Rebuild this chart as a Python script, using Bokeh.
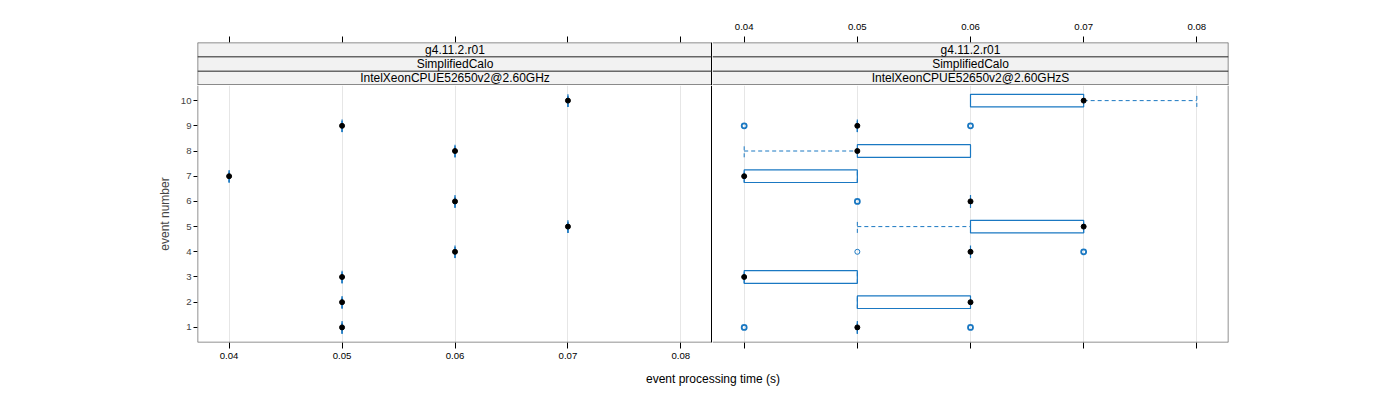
from bokeh.plotting import figure
from bokeh.models import Range1d, FixedTicker, ColumnDataSource, Span
from bokeh.layouts import column, row
from bokeh.embed import file_html
from bokeh.resources import INLINE
from bokeh.core.properties import value

# ---------------- data ----------------
events = [1, 2, 3, 4, 5, 6, 7, 8, 9, 10]

# left panel: IntelXeonCPUE52650v2@2.60GHz (one measurement per event)
left_times = [0.05, 0.05, 0.05, 0.06, 0.07, 0.06, 0.04, 0.06, 0.05, 0.07]

# right panel: IntelXeonCPUE52650v2@2.60GHzS (box statistics per event)
right_lower = [0.05, 0.05, 0.04, 0.06, 0.05, 0.06, 0.04, 0.04, 0.05, 0.06]
right_q1 = [0.05, 0.05, 0.04, 0.06, 0.06, 0.06, 0.04, 0.05, 0.05, 0.06]
right_median = [0.05, 0.06, 0.04, 0.06, 0.07, 0.06, 0.04, 0.05, 0.05, 0.07]
right_q3 = [0.05, 0.06, 0.05, 0.06, 0.07, 0.06, 0.05, 0.06, 0.05, 0.07]
right_upper = [0.05, 0.06, 0.05, 0.06, 0.07, 0.06, 0.05, 0.06, 0.05, 0.08]

out_event = [1, 1, 4, 4, 6, 9, 9]
out_time = [0.04, 0.06, 0.05, 0.07, 0.05, 0.04, 0.06]
out_count = [2, 2, 1, 2, 2, 2, 2]

x_ticks = [0.04, 0.05, 0.06, 0.07, 0.08]
strip_top = "g4.11.2.r01"
strip_mid = "SimplifiedCalo"
panel_names = ["IntelXeonCPUE52650v2@2.60GHz", "IntelXeonCPUE52650v2@2.60GHzS"]
x_label = "event processing time (s)"
y_label = "event number"

# ---------------- style ----------------
FONT = "Liberation Sans"
BLUE = "#1a78c2"
GRID = "#e6e6e6"
STRIP_BG = "#f2f2f2"
OUTER = "#6e6e6e"
INNER = "#222222"
HALF = 0.25
X_RANGE = (0.0372, 0.0828)
Y_RANGE = (0.4, 10.6)
TICK_FS = "9.6px"
LABEL_FS = "12px"
LEFT_B = 197
TOP_B = 42


def style_axis(ax, labels=True, standoff=4):
    ax.ticker = FixedTicker(ticks=x_ticks)
    ax.axis_line_color = None
    ax.major_tick_line_color = "black"
    ax.major_tick_out = 6
    ax.major_tick_in = 0
    ax.minor_tick_line_color = None
    ax.major_label_standoff = standoff
    ax.major_label_text_font = FONT
    ax.major_label_text_font_size = TICK_FS
    ax.major_label_text_color = "black" if labels else None


def add_edge(fig, dim, loc, color, width=1):
    fig.add_layout(Span(location=loc, dimension=dim, line_color=color, line_width=width))


def make_strip(name, is_left):
    s = figure(frame_width=515 if is_left else 516, frame_height=43,
               x_range=Range1d(*X_RANGE), y_range=Range1d(0, 3),
               x_axis_location="above", y_axis_location=None,
               min_border_top=TOP_B, min_border_bottom=0,
               min_border_left=LEFT_B if is_left else 0,
               min_border_right=0 if is_left else 10,
               output_backend="svg", toolbar_location=None, title=None)
    s.background_fill_color = STRIP_BG
    s.xgrid.visible = False
    s.ygrid.visible = False
    s.outline_line_color = None
    add_edge(s, "width", 3, OUTER, 1.5)
    add_edge(s, "width", 0, INNER, 2)
    if is_left:
        add_edge(s, "height", X_RANGE[0], OUTER, 1.5)
        add_edge(s, "height", X_RANGE[1], "black", 3)
    else:
        add_edge(s, "height", X_RANGE[1], OUTER, 1.5)
    style_axis(s.xaxis[0], not is_left, standoff=7)
    for loc in (1, 2):
        add_edge(s, "width", loc, INNER, 1)
    mid = (X_RANGE[0] + X_RANGE[1]) / 2
    s.text(x=[mid] * 3, y=[2.5, 1.5, 0.5], text=[strip_top, strip_mid, name],
           text_align="center", text_baseline="middle",
           text_font=value(FONT), text_font_size=value(LABEL_FS), text_color="black")
    return s


def make_panel(is_left):
    p = figure(frame_width=515 if is_left else 516, frame_height=257,
               x_range=Range1d(*X_RANGE), y_range=Range1d(*Y_RANGE),
               x_axis_location="below", y_axis_location="left" if is_left else None,
               min_border_top=0, min_border_bottom=24,
               min_border_left=LEFT_B if is_left else 0,
               min_border_right=0 if is_left else 10,
               output_backend="svg", toolbar_location=None, title=None)
    p.outline_line_color = None
    p.ygrid.visible = False
    p.xgrid.ticker = FixedTicker(ticks=x_ticks)
    p.xgrid.grid_line_color = GRID
    style_axis(p.xaxis[0], is_left)
    add_edge(p, "width", Y_RANGE[0], OUTER, 1.5)
    if is_left:
        add_edge(p, "height", X_RANGE[0], OUTER, 1.5)
        add_edge(p, "height", X_RANGE[1], "black", 3)
        ya = p.yaxis[0]
        ya.ticker = FixedTicker(ticks=events)
        ya.axis_line_color = None
        ya.major_tick_line_color = "black"
        ya.major_tick_out = 4
        ya.major_tick_in = 0
        ya.minor_tick_line_color = None
        ya.major_label_standoff = 2
        ya.major_label_text_font = FONT
        ya.major_label_text_font_size = TICK_FS
        ya.axis_label = y_label
        ya.axis_label_text_font = FONT
        ya.axis_label_text_font_size = LABEL_FS
        ya.axis_label_text_font_style = "normal"
        ya.axis_label_standoff = 6
    else:
        add_edge(p, "height", X_RANGE[1], OUTER, 1.5)
    return p


def draw_boxes(p, ev, lower, q1, med, q3, upper):
    src = ColumnDataSource(dict(
        ev=ev, lower=lower, q1=q1, med=med, q3=q3, upper=upper,
        bot=[e - HALF for e in ev], top=[e + HALF for e in ev]))
    # whiskers (dashed) and their end caps
    p.segment(x0="lower", y0="ev", x1="q1", y1="ev", source=src,
              line_color=BLUE, line_width=1, line_dash="4 3")
    p.segment(x0="q3", y0="ev", x1="upper", y1="ev", source=src,
              line_color=BLUE, line_width=1, line_dash="4 3")
    p.segment(x0="lower", y0="bot", x1="lower", y1="top", source=src,
              line_color=BLUE, line_width=1, line_dash="4 3")
    p.segment(x0="upper", y0="bot", x1="upper", y1="top", source=src,
              line_color=BLUE, line_width=1, line_dash="4 3")
    # box
    p.quad(left="q1", right="q3", bottom="bot", top="top", source=src,
           fill_color=None, line_color=BLUE, line_width=1.2)
    # median dot
    p.scatter(x="med", y="ev", source=src, marker="circle", size=5,
              fill_color="black", line_color="black")


# ---------------- panels ----------------
s1 = make_strip(panel_names[0], True)
s2 = make_strip(panel_names[1], False)
p1 = make_panel(True)
p2 = make_panel(False)

draw_boxes(p1, events, left_times, left_times, left_times, left_times, left_times)
draw_boxes(p2, events, right_lower, right_q1, right_median, right_q3, right_upper)

osrc = ColumnDataSource(dict(t=out_time, e=out_event,
                             lw=[1.0 if c == 1 else 1.8 for c in out_count]))
p2.scatter(x="t", y="e", source=osrc, marker="circle", size=5,
           fill_color=None, line_color=BLUE, line_width="lw")

# shared x-axis title
p3 = figure(frame_width=1031, frame_height=24, x_range=Range1d(0, 1), y_range=Range1d(0, 1),
            x_axis_location=None, y_axis_location=None,
            min_border_left=LEFT_B, min_border_right=10, min_border_top=0, min_border_bottom=0,
            output_backend="svg", toolbar_location=None, title=None)
p3.outline_line_color = None
p3.xgrid.visible = False
p3.ygrid.visible = False
p3.text(x=[0.5], y=[0.5], text=[x_label], text_align="center", text_baseline="middle",
        text_font=value(FONT), text_font_size=value(LABEL_FS), text_color="black")

layout = column(row(s1, s2), row(p1, p2), p3)

open("out.html", "w").write(file_html(layout, INLINE))
